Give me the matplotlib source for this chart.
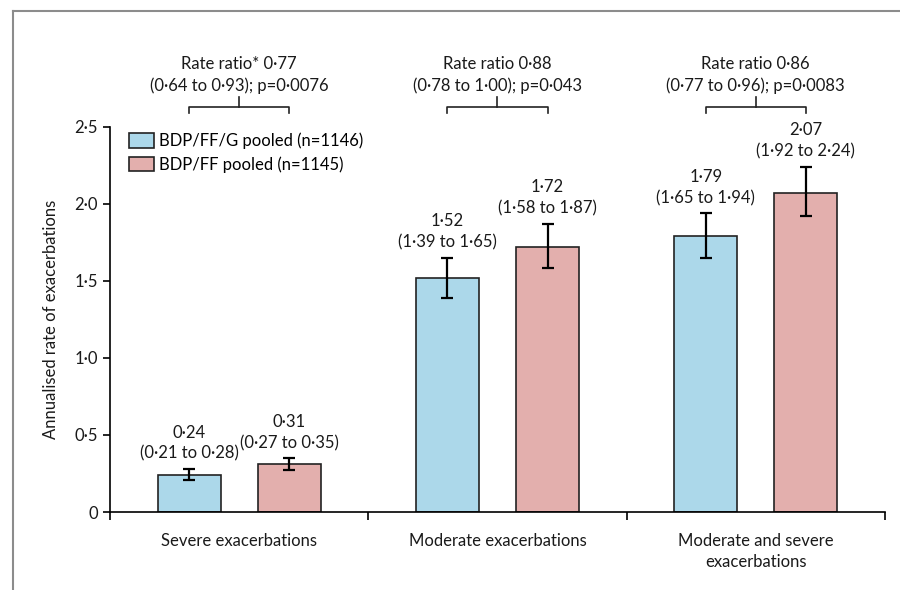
import matplotlib.pyplot as plt
from matplotlib.lines import Line2D
from matplotlib.patches import Patch

plt.rcParams['font.family'] = ['Lato', 'DejaVu Sans']

categorias = ["Severe exacerbations", "Moderate exacerbations", "Moderate and severe\nexacerbations"]
serie_g = [0.24, 1.52, 1.79]
serie_g_baixo = [0.21, 1.39, 1.65]
serie_g_alto = [0.28, 1.65, 1.94]
serie_ff = [0.31, 1.72, 2.07]
serie_ff_baixo = [0.27, 1.58, 1.92]
serie_ff_alto = [0.35, 1.87, 2.24]
razao_texto = ["Rate ratio* 0·77\n(0·64 to 0·93); p=0·0076",
               "Rate ratio 0·88\n(0·78 to 1·00); p=0·043",
               "Rate ratio 0·86\n(0·77 to 0·96); p=0·0083"]
yticks = [0, 0.5, 1.0, 1.5, 2.0, 2.5]
ytick_labels = ["0", "0·5", "1·0", "1·5", "2·0", "2·5"]
legenda = ["BDP/FF/G pooled (n=1146)", "BDP/FF pooled (n=1145)"]

azul = '#acd8ea'
rosa = '#e3afad'
borda = '#222222'
texto = '#1a1a1a'


def fmt(v):
    return ("%.2f" % v).replace(".", "·")


fig = plt.figure(figsize=(9, 5.9), dpi=100)
ax = fig.add_axes([0.1222, 0.1322, 0.8611, 0.8492])

# moldura cinza do painel
fig.add_artist(Line2D([13 / 900, 1], [1 - 11 / 590, 1 - 11 / 590], color='#8c8c8c', lw=1.5))
fig.add_artist(Line2D([13 / 900, 13 / 900], [0, 1 - 11 / 590], color='#8c8c8c', lw=1.5))

desloc = 0.194
largura = 0.244
fs = 12

for i in range(3):
    c = i + 0.5
    xg = c - desloc
    xf = c + desloc
    for x, v, lo, hi, cor in [(xg, serie_g[i], serie_g_baixo[i], serie_g_alto[i], azul),
                              (xf, serie_ff[i], serie_ff_baixo[i], serie_ff_alto[i], rosa)]:
        ax.bar(x, v, width=largura, color=cor, edgecolor=borda, linewidth=1.2, zorder=2)
        ax.errorbar(x, v, yerr=[[v - lo], [hi - v]], fmt='none', ecolor='black',
                    elinewidth=1.6, capsize=4.5, capthick=1.6, zorder=3)
        ax.annotate(fmt(v) + "\n(" + fmt(lo) + " to " + fmt(hi) + ")", (x, hi),
                    xytext=(0, 5), textcoords='offset points', ha='center', va='bottom',
                    fontsize=fs, linespacing=1.4, color=texto)
    # colchete da razão de taxas
    ax.plot([xg, xg, xf, xf], [2.59, 2.63, 2.63, 2.59], color='#222222', lw=1.2, clip_on=False)
    ax.plot([c, c], [2.63, 2.69], color='#222222', lw=1.2, clip_on=False)
    ax.text(c, 2.71, razao_texto[i], ha='center', va='bottom', fontsize=fs,
            linespacing=1.4, color=texto)

ax.set_xlim(0, 3)
ax.set_ylim(0, 3.25)
for s in ['top', 'right']:
    ax.spines[s].set_visible(False)
ax.spines['left'].set_bounds(0, 2.5)
ax.spines['left'].set_linewidth(1.2)
ax.spines['bottom'].set_linewidth(1.2)

ax.set_yticks(yticks)
ax.set_yticklabels(ytick_labels, fontsize=fs, color=texto)
ax.tick_params(axis='y', length=5, width=1.2)
ax.set_xticks([0, 1, 2, 3])
ax.set_xticklabels([])
ax.tick_params(axis='x', which='major', length=6, width=1.2, direction='out')
ax.set_xticks([0.5, 1.5, 2.5], minor=True)
ax.set_xticklabels(categorias, minor=True, fontsize=fs, color=texto, linespacing=1.4, va='top')
ax.tick_params(axis='x', which='minor', length=0, pad=15)

ax.set_ylabel("Annualised rate of exacerbations", fontsize=fs, color=texto)
ax.yaxis.set_label_coords(-0.066, 2.5 / 3.25 / 2)

handles = [Patch(facecolor=azul, edgecolor=borda, linewidth=1.2),
           Patch(facecolor=rosa, edgecolor=borda, linewidth=1.2)]
ax.legend(handles, legenda, loc='upper left', bbox_to_anchor=(0.025, 0.757), frameon=False,
          fontsize=fs, handlelength=1.45, handleheight=0.95, handletextpad=0.35,
          labelspacing=0.4, borderaxespad=0, borderpad=0)

fig.savefig("out.png", dpi=100)
